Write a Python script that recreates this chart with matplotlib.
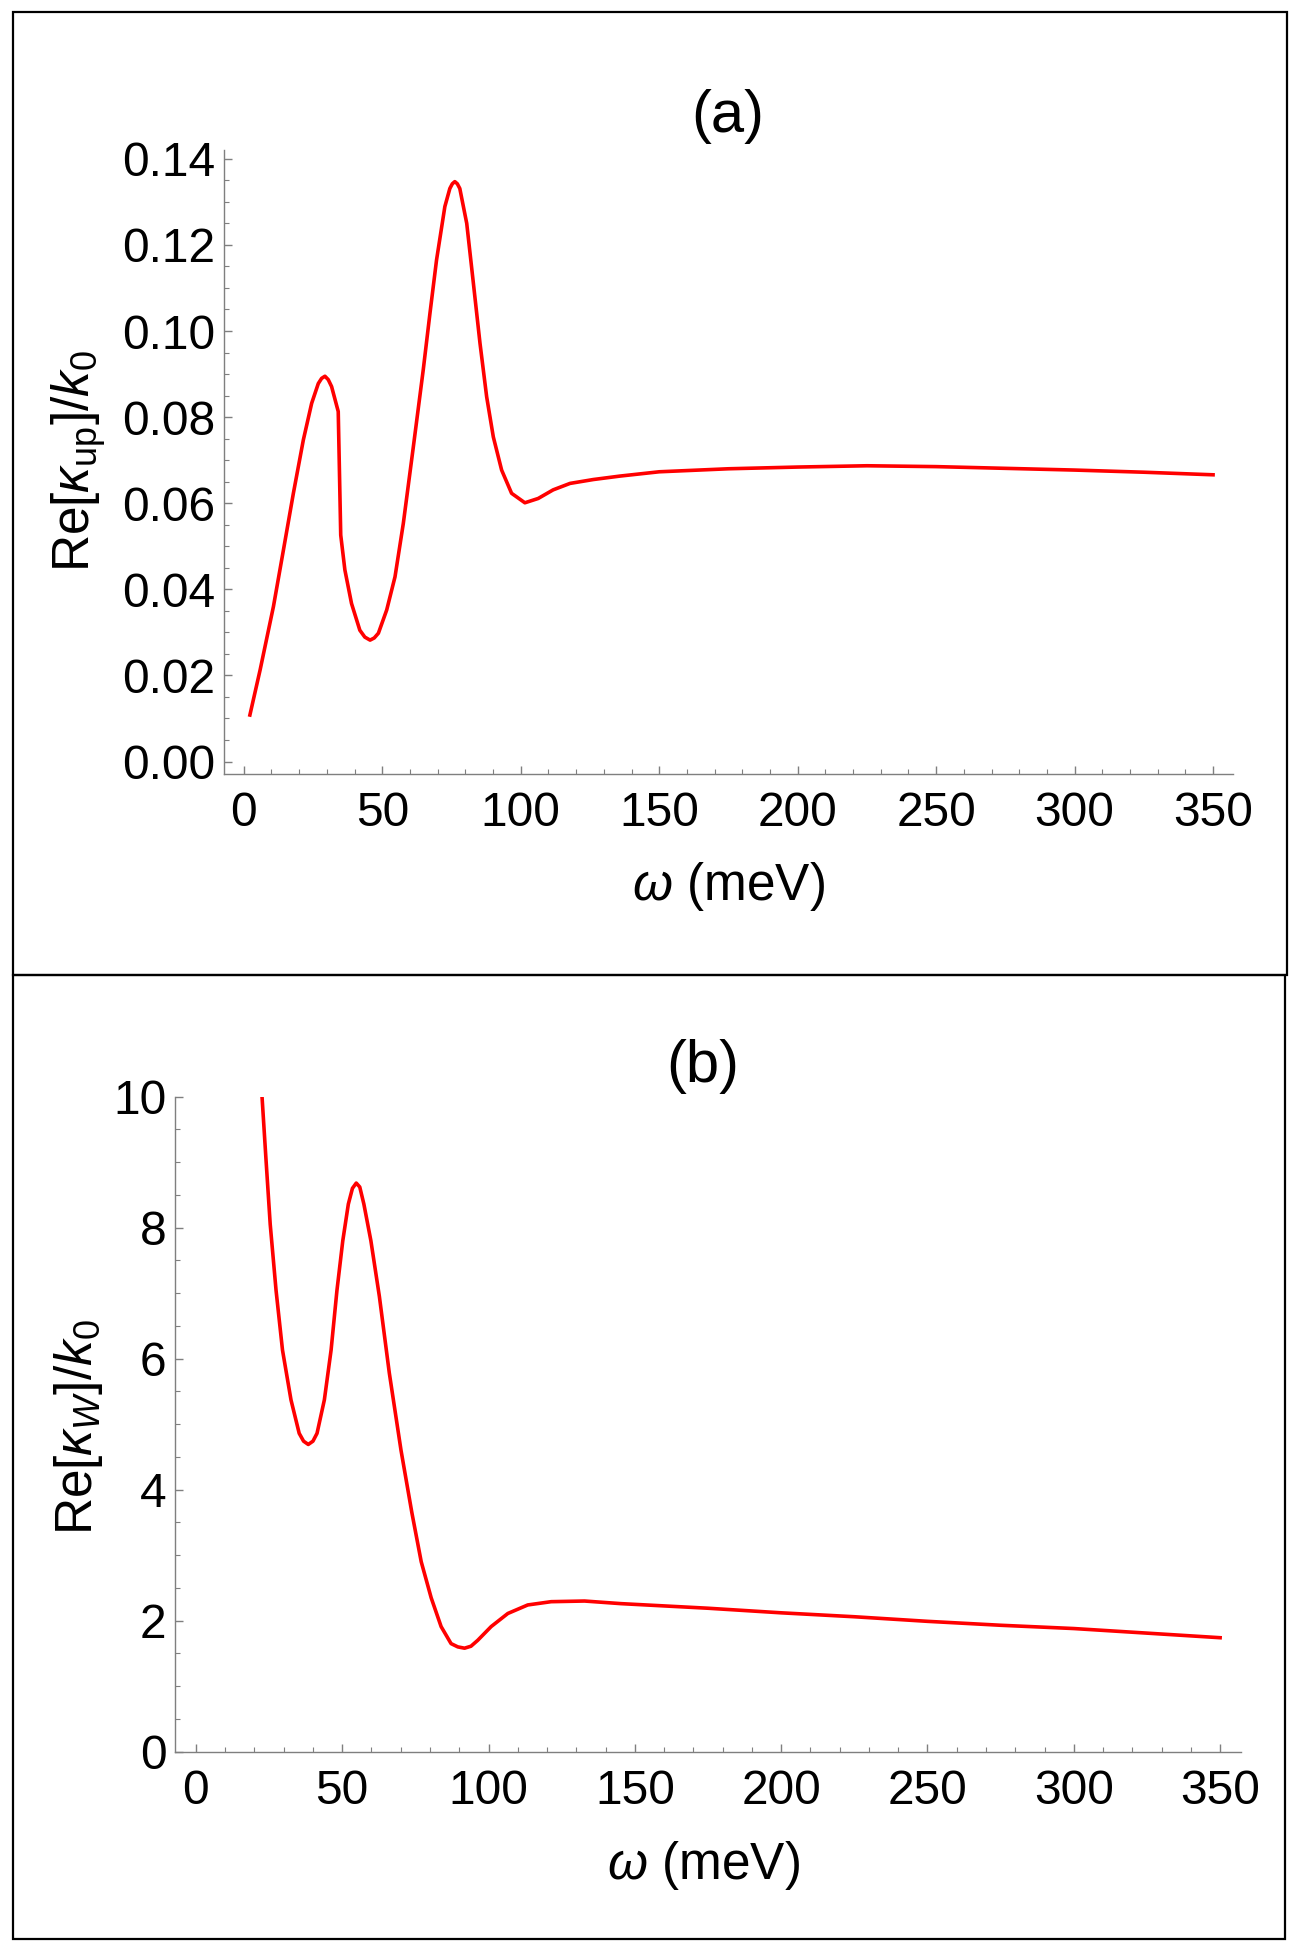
import matplotlib
matplotlib.use("Agg")
import matplotlib.pyplot as plt
from matplotlib.patches import Rectangle
from matplotlib.ticker import MultipleLocator, FormatStrFormatter

plt.rcParams['font.family'] = ['Liberation Sans', 'DejaVu Sans']
plt.rcParams['mathtext.fontset'] = 'custom'
plt.rcParams['mathtext.rm'] = 'Liberation Sans'
plt.rcParams['mathtext.it'] = 'Liberation Sans:italic'

# panel (a): Re[kappa_up]/k0 vs omega (meV)
omega_a = [2.2, 5.9, 10.7, 14.3, 17.9, 21.5, 24.5, 26.9, 28.1, 29.3, 30.5, 31.7,
           34.1, 35.0, 36.5, 38.9, 41.9, 43.7, 45.6, 47.1, 48.6, 51.6, 54.6, 57.6,
           61.2, 64.8, 67.2, 69.6, 72.6, 74.4, 75.3, 76.2, 77.1, 78.0, 80.5, 82.9,
           85.3, 87.7, 90.1, 93.1, 96.7, 101.5, 106.3, 111.7, 117.8, 126.2, 135.8,
           150, 175, 200, 225, 250, 275, 300, 325, 350]
kappa_up = [0.0108, 0.0213, 0.0360, 0.0491, 0.0623, 0.0747, 0.0832, 0.0878, 0.0890,
            0.0895, 0.0887, 0.0871, 0.0813, 0.0526, 0.0445, 0.0367, 0.0305, 0.0289,
            0.0282, 0.0287, 0.0298, 0.0352, 0.0429, 0.0553, 0.0730, 0.0910, 0.1040,
            0.1165, 0.1289, 0.1331, 0.1342, 0.1347, 0.1342, 0.1331, 0.1250, 0.1111,
            0.0971, 0.0847, 0.0754, 0.0677, 0.0623, 0.0601, 0.0611, 0.0631, 0.0646,
            0.0655, 0.0663, 0.0673, 0.0680, 0.0684, 0.0687, 0.0685, 0.0681, 0.0677,
            0.0672, 0.0666]

# panel (b): Re[kappa_W]/k0 vs omega (meV)
omega_b = [22.6, 23.9, 25.4, 27.4, 29.6, 32.5, 35.3, 36.8, 38.4, 40.0, 41.4, 43.9,
           46.2, 48.2, 50.2, 52.1, 53.5, 54.8, 56.0, 57.4, 59.8, 62.7, 66.1, 70.1,
           73.8, 77.0, 80.4, 83.8, 87.2, 89.5, 91.8, 94.0, 96.3, 100.9, 106.6, 113.4,
           121.4, 132.8, 145.3, 175, 200, 225, 250, 275, 300, 325, 350]
kappa_w = [10.0, 9.08, 8.05, 7.04, 6.13, 5.37, 4.86, 4.74, 4.69, 4.74, 4.86, 5.37,
           6.13, 7.04, 7.80, 8.36, 8.60, 8.68, 8.62, 8.36, 7.80, 6.95, 5.78, 4.60,
           3.65, 2.90, 2.35, 1.91, 1.65, 1.60, 1.58, 1.61, 1.70, 1.91, 2.11, 2.24,
           2.29, 2.30, 2.26, 2.19, 2.12, 2.06, 1.99, 1.93, 1.88, 1.81, 1.74]

W, H = 1303, 1953
fig = plt.figure(figsize=(W / 100, H / 100), dpi=100)

tick_fs = 34.5
label_fs = 37
title_fs = 43
gray = '#7f7f7f'


def style_axes(ax):
    for s in ['top', 'right']:
        ax.spines[s].set_visible(False)
    for s in ['left', 'bottom']:
        ax.spines[s].set_color(gray)
        ax.spines[s].set_linewidth(1.0)
    ax.tick_params(which='both', direction='in', colors=gray, labelcolor='black',
                   labelsize=tick_fs)
    ax.tick_params(which='major', length=6, width=1.0)
    ax.tick_params(which='minor', length=3.5, width=0.8)
    ax.tick_params(axis='y', pad=6.5)
    ax.tick_params(axis='x', pad=12.5)
    ax.xaxis.set_major_locator(MultipleLocator(50))
    ax.xaxis.set_minor_locator(MultipleLocator(10))


# (a)
ax1 = fig.add_axes([224 / W, 1 - 774 / H, (1233 - 224) / W, (774 - 150.2) / H])
ax1.plot(omega_a, kappa_up, color='red', lw=2.6, solid_joinstyle='round')
ax1.set_xlim(-7.15, 357.2)
ax1.set_ylim(-0.0029, 0.142)
style_axes(ax1)
ax1.yaxis.set_major_locator(MultipleLocator(0.02))
ax1.yaxis.set_minor_locator(MultipleLocator(0.005))
ax1.yaxis.set_major_formatter(FormatStrFormatter('%.2f'))
ax1.set_xlabel(r'$\omega$ (meV)', fontsize=label_fs, va='center')
ax1.xaxis.set_label_coords(0.4996, -0.181)
ax1.set_ylabel(r'Re$[\kappa_{\mathrm{up}}]/k_0$', fontsize=label_fs, va='center')
ax1.yaxis.set_label_coords(-0.144, 0.502)
ax1.text(0.4996, 1.0548, '(a)', transform=ax1.transAxes, fontsize=title_fs,
         ha='center', va='center')

# (b)
ax2 = fig.add_axes([175.4 / W, 1 - 1751.7 / H, (1240.6 - 175.4) / W, (1751.7 - 1096.6) / H])
ax2.plot(omega_b, kappa_w, color='red', lw=2.6, solid_joinstyle='round')
ax2.set_xlim(-7, 357)
ax2.set_ylim(0, 10)
style_axes(ax2)
ax2.yaxis.set_major_locator(MultipleLocator(2))
ax2.yaxis.set_minor_locator(MultipleLocator(0.5))
ax2.set_xlabel(r'$\omega$ (meV)', fontsize=label_fs, va='center')
ax2.xaxis.set_label_coords(0.4953, -0.174)
ax2.set_ylabel(r'Re$[\kappa_W]/k_0$', fontsize=label_fs, va='center')
ax2.yaxis.set_label_coords(-0.0905, 0.4957)
ax2.text(0.4953, 1.0467, '(b)', transform=ax2.transAxes, fontsize=title_fs,
         ha='center', va='center')

# panel frames
fig.add_artist(Rectangle((12.5 / W, 1 - 975 / H), (1287 - 12.5) / W, (975 - 12.5) / H,
                         transform=fig.transFigure, fill=False, ec='black', lw=1.6))
fig.add_artist(Rectangle((12.5 / W, 1 - 1939 / H), (1285 - 12.5) / W, (1939 - 975) / H,
                         transform=fig.transFigure, fill=False, ec='black', lw=1.6))

fig.savefig('out.png', dpi=100, facecolor='white')
